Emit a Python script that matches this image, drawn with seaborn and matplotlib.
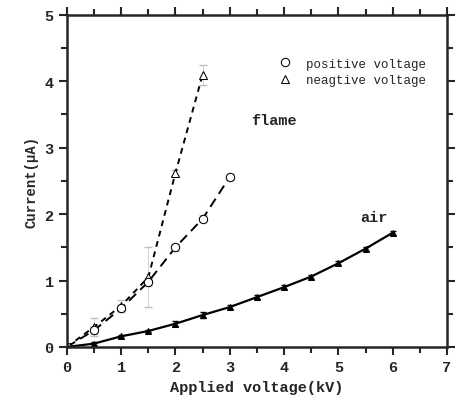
import seaborn as sns
import matplotlib.pyplot as plt
import pandas as pd

# flame, positive voltage
pos_v = [0, 0.5, 1.0, 1.5, 2.0, 2.5, 3.0]
pos_i = [0, 0.25, 0.58, 0.98, 1.50, 1.93, 2.56]
pos_err = [0.02, 0.05, 0.05, 0.06, 0.05, 0.05, 0.05]

# flame, negative voltage
neg_v = [0, 0.5, 1.0, 1.5, 2.0, 2.5]
neg_i = [0, 0.30, 0.62, 1.05, 2.62, 4.10]
neg_err = [0.02, 0.14, 0.08, 0.45, 0.05, 0.15]

# air
air_v = [0, 0.5, 1.0, 1.5, 2.0, 2.5, 3.0, 3.5, 4.0, 4.5, 5.0, 5.5, 6.0]
air_i = [0, 0.05, 0.16, 0.24, 0.35, 0.48, 0.60, 0.75, 0.90, 1.06, 1.26, 1.48, 1.72]
air_err = [0.01, 0.02, 0.02, 0.02, 0.04, 0.04, 0.03, 0.03, 0.03, 0.03, 0.03, 0.03, 0.03]

sns.set_style("ticks")
plt.rcParams['font.family'] = ['Liberation Mono', 'DejaVu Sans']
plt.rcParams['font.weight'] = 'bold'

fig = plt.figure(figsize=(4.58, 4.06), dpi=100)
ax = fig.add_axes([0.146, 0.143, 0.83, 0.818])

df_pos = pd.DataFrame({"v": pos_v, "i": pos_i})
df_neg = pd.DataFrame({"v": neg_v, "i": neg_i})
df_air = pd.DataFrame({"v": air_v, "i": air_i})

# faint error bars underneath
ax.errorbar(pos_v, pos_i, yerr=pos_err, fmt="none", ecolor="0.75", elinewidth=0.5, capsize=3)
ax.errorbar(neg_v, neg_i, yerr=neg_err, fmt="none", ecolor="0.75", elinewidth=0.5, capsize=3)
ax.errorbar(air_v, air_i, yerr=air_err, fmt="none", ecolor="black", elinewidth=0.8, capsize=2)

sns.lineplot(data=df_neg, x="v", y="i", ax=ax, color="black", lw=1.4,
             linestyle=(0, (3, 2.5)), marker="^", markersize=6,
             markerfacecolor="white", markeredgecolor="black", label="neagtive voltage")
sns.lineplot(data=df_pos, x="v", y="i", ax=ax, color="black", lw=1.4,
             linestyle=(0, (5, 3)), marker="o", markersize=6,
             markerfacecolor="white", markeredgecolor="black", label="positive voltage")
sns.lineplot(data=df_air, x="v", y="i", ax=ax, color="black", lw=1.6,
             marker="^", markersize=5, markerfacecolor="black",
             markeredgecolor="black", legend=False)

ax.set_xlim(0, 7)
ax.set_ylim(0, 5)
ax.set_xticks(range(0, 8))
ax.set_yticks(range(0, 6))
ax.set_xticks([x + 0.5 for x in range(7)], minor=True)
ax.set_yticks([y + 0.5 for y in range(5)], minor=True)
ax.tick_params(which="both", direction="out", top=True, right=True, width=1.5,
               labelsize=11)
ax.tick_params(which="major", length=6)
ax.tick_params(which="minor", length=4)
for s in ax.spines.values():
    s.set_linewidth(1.8)
    s.set_visible(True)

ax.set_xlabel("Applied voltage(kV)", fontsize=11, fontweight="bold")
ax.set_ylabel("Current(\u03bcA)", fontsize=10, fontweight="bold")

ax.text(3.4, 3.35, "flame", fontsize=11, fontweight="bold")
ax.text(5.4, 1.9, "air", fontsize=11, fontweight="bold")

h, l = ax.get_legend_handles_labels()
leg = ax.legend(h[::-1], l[::-1], loc="upper right", bbox_to_anchor=(0.975, 0.905),
                frameon=False, fontsize=9, handlelength=1.0, handletextpad=1.2,
                labelspacing=0.35)
for lh in leg.legend_handles:
    lh.set_linestyle("none")
    lh.set_markersize(6)
for t in leg.get_texts():
    t.set_fontweight("normal")

fig.savefig("out.png", dpi=100)
